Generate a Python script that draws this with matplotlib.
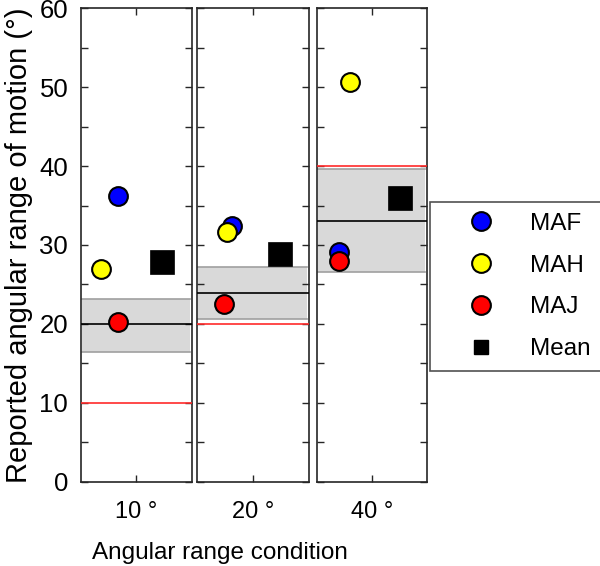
import matplotlib
matplotlib.use("Agg")
import matplotlib.pyplot as plt
from matplotlib.lines import Line2D

plt.rcParams['font.family'] = ['Liberation Sans', 'DejaVu Sans']

# ---- data ----
conditions = ["10 \u00b0", "20 \u00b0", "40 \u00b0"]
true_range = [10, 20, 40]
maf = [36.2, 32.4, 29.1]
mah = [27.0, 31.6, 50.7]
maj = [20.3, 22.5, 28.0]
mean_vals = [27.9, 28.8, 35.9]
ci_low = [16.5, 20.6, 26.6]
ci_high = [23.2, 27.2, 39.6]
ci_mid = [20.0, 23.9, 33.1]
# horizontal jitter of individual points within each panel (0..1)
x_maf = [0.333, 0.313, 0.20]
x_mah = [0.183, 0.268, 0.30]
x_maj = [0.333, 0.241, 0.20]
x_mean = [0.735, 0.738, 0.754]

W, H = 600, 566
fig = plt.figure(figsize=(W / 100, H / 100), dpi=100)

panels_px = [(80.7, 191.7), (197.3, 309.0), (317.0, 426.7)]
y_top, y_bot = 8.3, 481.7
spine_c = '#262626'

for i, (l, r) in enumerate(panels_px):
    ax = fig.add_axes([l / W, (H - y_bot) / H, (r - l) / W, (y_bot - y_top) / H])
    ax.set_xlim(0, 1)
    ax.set_ylim(0, 60)
    ax.axhspan(ci_low[i], ci_high[i], xmin=0.01, xmax=0.985, facecolor='#d9d9d9',
               edgecolor='none', zorder=1)
    ax.plot([0.01, 0.985], [ci_low[i]] * 2, color='#a0a0a0', lw=1.2, zorder=2)
    ax.plot([0.01, 0.985], [ci_high[i]] * 2, color='#a0a0a0', lw=1.2, zorder=2)
    ax.axhline(ci_mid[i], color='black', lw=1.2, zorder=3)
    ax.axhline(true_range[i], color='#ff2a2a', lw=1.2, zorder=3)
    ax.plot(x_maf[i], maf[i], 'o', ms=13.5, mfc='#0000ff', mec='black', mew=1.5, zorder=5)
    ax.plot(x_mah[i], mah[i], 'o', ms=13.5, mfc='#ffff00', mec='black', mew=1.5, zorder=6)
    ax.plot(x_maj[i], maj[i], 'o', ms=13.5, mfc='#ff0000', mec='black', mew=1.5, zorder=7)
    ax.plot(x_mean[i], mean_vals[i], 's', ms=17.5, mfc='black', mec='black', mew=0.5, zorder=8)

    ax.set_xticks([0.5])
    ax.set_xticklabels([conditions[i]], fontsize=17)
    ax.set_yticks(range(0, 61, 10))
    ax.set_yticks(range(5, 60, 10), minor=True)
    ax.tick_params(axis='both', which='both', direction='in', length=5, width=1,
                   color=spine_c, top=True, right=True)
    ax.tick_params(axis='y', labelsize=18.5, pad=9)
    ax.tick_params(axis='x', pad=14)
    if i > 0:
        ax.set_yticklabels([])
    else:
        ax.set_ylabel("Reported angular range of motion (\u00b0)", fontsize=21, labelpad=5)
    for sp in ax.spines.values():
        sp.set_color(spine_c)
        sp.set_linewidth(1.2)

fig.text(220 / W, (H - 559) / H, "Angular range condition", fontsize=17.5,
         ha='center', va='baseline')

handles = [
    Line2D([], [], ls='none', marker='o', ms=13.5, mfc='#0000ff', mec='black', mew=1.5),
    Line2D([], [], ls='none', marker='o', ms=13.5, mfc='#ffff00', mec='black', mew=1.5),
    Line2D([], [], ls='none', marker='o', ms=13.5, mfc='#ff0000', mec='black', mew=1.5),
    Line2D([], [], ls='none', marker='s', ms=9.5, mfc='black', mec='black'),
]
leg = fig.legend(handles, ["MAF", "MAH", "MAJ", "Mean"], loc='center',
                 bbox_to_anchor=((432 + 600) / 2 / W, 1 - (198 + 375) / 2 / H),
                 fontsize=17.5, frameon=True, fancybox=False, edgecolor='#262626',
                 handlelength=3.3, handletextpad=0.35, labelspacing=0.82,
                 borderpad=0.45)
leg.get_frame().set_linewidth(1.2)

fig.savefig("out.png", dpi=100)
